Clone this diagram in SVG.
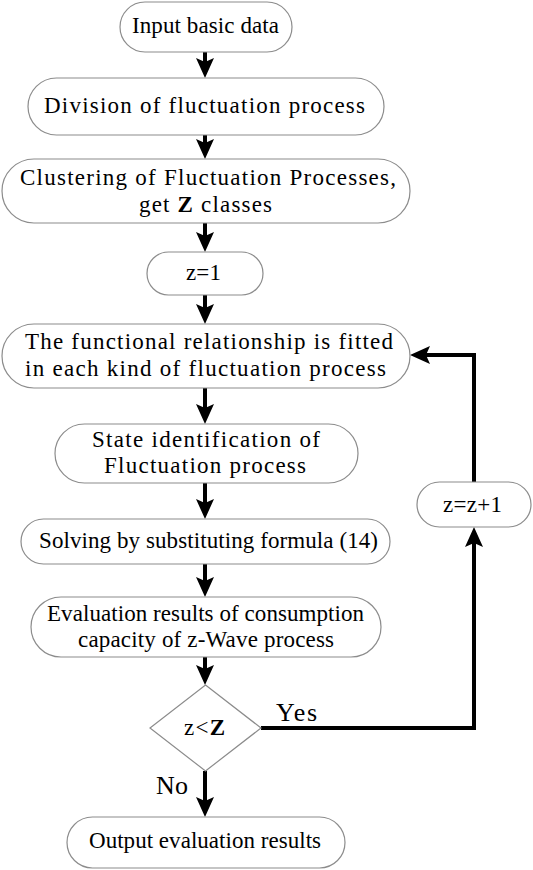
<svg xmlns="http://www.w3.org/2000/svg" width="533" height="870" viewBox="0 0 533 870">
<style>
.box{fill:#fff;stroke:#8c8c8c;stroke-width:1.2}
.t{font-family:"Liberation Serif","Times New Roman",serif;font-size:23px;fill:#000}
.lbl{font-family:"Liberation Serif","Times New Roman",serif;font-size:26px;fill:#000}
.c{fill:none;stroke:#000;stroke-width:4}
</style>
<defs>
<marker id="ah" viewBox="0 0 20 18" refX="10" refY="9" markerWidth="20" markerHeight="18" markerUnits="userSpaceOnUse" orient="auto">
<path d="M0,0 L20,9 L0,18 L4,9 z" fill="#000"/>
</marker>
</defs>
<rect width="533" height="870" fill="#fff"/>
<g id="connectors">
<line class="c" x1="205" y1="52" x2="205" y2="68" marker-end="url(#ah)"/>
<line class="c" x1="205" y1="135" x2="205" y2="149" marker-end="url(#ah)"/>
<line class="c" x1="205" y1="223" x2="205" y2="242" marker-end="url(#ah)"/>
<line class="c" x1="205" y1="295" x2="205" y2="314" marker-end="url(#ah)"/>
<line class="c" x1="205" y1="388" x2="205" y2="414" marker-end="url(#ah)"/>
<line class="c" x1="205" y1="483" x2="205" y2="509" marker-end="url(#ah)"/>
<line class="c" x1="205" y1="564" x2="205" y2="587" marker-end="url(#ah)"/>
<line class="c" x1="205" y1="657" x2="205" y2="675" marker-end="url(#ah)"/>
<line class="c" x1="205" y1="771" x2="205" y2="807" marker-end="url(#ah)"/>
<polyline class="c" points="261,728 474,728 474,537" marker-end="url(#ah)"/>
<polyline class="c" points="474,482 474,355 420,355" marker-end="url(#ah)"/>
</g>
<g id="n1"><rect class="box" x="120" y="2" width="172" height="50" rx="25"/><text class="t" x="132" y="33" textLength="147" lengthAdjust="spacing">Input basic data</text></g>
<g id="n2"><rect class="box" x="28" y="78" width="356" height="57" rx="28.5"/><text class="t" x="44" y="113" textLength="321" lengthAdjust="spacing">Division of fluctuation process</text></g>
<g id="n3"><rect class="box" x="2" y="159" width="408" height="64" rx="32"/><text class="t" x="20" y="185" textLength="376" lengthAdjust="spacing">Clustering of Fluctuation Processes,</text><text class="t" x="139" y="212" textLength="133" lengthAdjust="spacing">get <tspan font-weight="bold">Z</tspan> classes</text></g>
<g id="n4"><rect class="box" x="147" y="252" width="116" height="43" rx="21.5"/><text class="t" x="186" y="280" textLength="35" lengthAdjust="spacing">z=1</text></g>
<g id="n5"><rect class="box" x="2" y="324" width="408" height="64" rx="32"/><text class="t" x="25" y="349" textLength="368" lengthAdjust="spacing">The functional relationship is fitted</text><text class="t" x="25" y="376" textLength="361" lengthAdjust="spacing">in each kind of fluctuation process</text></g>
<g id="n6"><rect class="box" x="55" y="424" width="303" height="59" rx="29.5"/><text class="t" x="92" y="447" textLength="228" lengthAdjust="spacing">State identification of</text><text class="t" x="104" y="473" textLength="202" lengthAdjust="spacing">Fluctuation process</text></g>
<g id="n7"><rect class="box" x="21" y="519" width="369" height="45" rx="22.5"/><text class="t" x="39" y="548" textLength="339" lengthAdjust="spacing">Solving by substituting formula (14)</text></g>
<g id="n8"><rect class="box" x="31" y="597" width="350" height="60" rx="30"/><text class="t" x="47" y="621" textLength="317" lengthAdjust="spacing">Evaluation results of consumption</text><text class="t" x="78" y="647" textLength="256" lengthAdjust="spacing">capacity of z-Wave process</text></g>
<g id="n9"><polygon class="box" points="205.5,685 261,728 205.5,771 150,728"/><text class="t" x="184" y="735" font-size="22" textLength="41" lengthAdjust="spacing">z&lt;<tspan font-weight="bold">Z</tspan></text></g>
<g id="n10"><rect class="box" x="67" y="817" width="278" height="51" rx="25.5"/><text class="t" x="89" y="848" textLength="232" lengthAdjust="spacing">Output evaluation results</text></g>
<g id="n11"><rect class="box" x="417" y="482" width="114" height="45" rx="22.5"/><text class="t" x="443" y="512" textLength="59" lengthAdjust="spacing">z=z+1</text></g>
<g id="labels"><text class="lbl" x="276" y="721" textLength="41" lengthAdjust="spacing">Yes</text><text class="lbl" x="156" y="794" textLength="32" lengthAdjust="spacing">No</text></g>
</svg>
